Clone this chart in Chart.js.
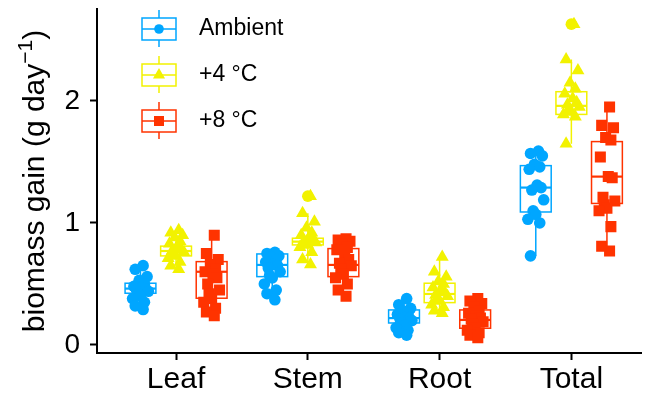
<!DOCTYPE html>
<html>
<head>
<meta charset="utf-8">
<script src="https://cdn.jsdelivr.net/npm/chart.js@4.4.1/dist/chart.umd.min.js"></script>
<style>
  html, body { margin: 0; padding: 0; background: #fff; }
</style>
</head>
<body>
<canvas id="biomass" width="649" height="396"></canvas>
<script>
const categories = ['Leaf', 'Stem', 'Root', 'Total'];
const treatments = ['Ambient', '+4 °C', '+8 °C'];
const colours = ['#00A6FF', '#F2F200', '#FF3300'];
const shapes = ['circle', 'triangle', 'rect'];

// individual plants, one list per organ (Leaf, Stem, Root, Total)
const ambientValues = [
  [0.65, 0.62, 0.56, 0.53, 0.50, 0.48, 0.47, 0.46, 0.45, 0.44, 0.42, 0.40, 0.38, 0.35, 0.32, 0.29],
  [0.76, 0.75, 0.73, 0.72, 0.70, 0.68, 0.66, 0.65, 0.63, 0.60, 0.57, 0.55, 0.50, 0.45, 0.42, 0.37],
  [0.38, 0.33, 0.30, 0.28, 0.26, 0.25, 0.23, 0.22, 0.21, 0.20, 0.18, 0.16, 0.14, 0.12, 0.10, 0.08],
  [1.59, 1.57, 1.55, 1.48, 1.46, 1.44, 1.31, 1.29, 1.27, 1.19, 1.10, 1.07, 1.03, 1.00, 0.73]
];
const warm4Values = [
  [0.94, 0.92, 0.90, 0.88, 0.85, 0.83, 0.80, 0.78, 0.77, 0.76, 0.75, 0.73, 0.71, 0.68, 0.65, 0.62],
  [1.22, 1.08, 1.01, 0.96, 0.92, 0.90, 0.88, 0.86, 0.85, 0.84, 0.83, 0.82, 0.80, 0.76, 0.70, 0.66],
  [0.72, 0.60, 0.56, 0.52, 0.50, 0.47, 0.45, 0.43, 0.41, 0.40, 0.38, 0.36, 0.33, 0.31, 0.28, 0.26],
  [2.63, 2.34, 2.25, 2.15, 2.10, 2.06, 2.02, 1.99, 1.97, 1.95, 1.93, 1.91, 1.89, 1.87, 1.65]
];
const warm8Values = [
  [0.90, 0.75, 0.70, 0.66, 0.62, 0.60, 0.58, 0.55, 0.50, 0.45, 0.42, 0.38, 0.35, 0.30, 0.27, 0.24],
  [0.87, 0.86, 0.85, 0.83, 0.80, 0.78, 0.75, 0.70, 0.67, 0.65, 0.62, 0.58, 0.55, 0.50, 0.45, 0.40],
  [0.38, 0.36, 0.34, 0.31, 0.28, 0.26, 0.24, 0.22, 0.21, 0.19, 0.17, 0.14, 0.12, 0.10, 0.08, 0.06],
  [1.95, 1.80, 1.78, 1.70, 1.68, 1.54, 1.38, 1.37, 1.21, 1.18, 1.15, 1.12, 1.10, 0.97, 0.81, 0.77]
];

// box summaries: [lower whisker, Q1, median, Q3, upper whisker]
const ambientBoxes = [
  [0.29, 0.424, 0.462, 0.506, 0.65],
  [0.37, 0.56, 0.656, 0.746, 0.76],
  [0.08, 0.18, 0.22, 0.287, 0.38],
  [0.73, 1.09, 1.29, 1.47, 1.59]
];
const warm4Boxes = [
  [0.62, 0.73, 0.77, 0.81, 0.94],
  [0.66, 0.82, 0.847, 0.875, 1.08],
  [0.26, 0.347, 0.418, 0.506, 0.72],
  [1.65, 1.89, 1.96, 2.076, 2.34]
];
const warm8Boxes = [
  [0.24, 0.383, 0.60, 0.683, 0.90],
  [0.40, 0.56, 0.656, 0.79, 0.87],
  [0.06, 0.137, 0.205, 0.287, 0.38],
  [0.77, 1.16, 1.38, 1.667, 1.95]
];

// outliers flagged by the +4 °C boxes: [organ index, value]
const warm4Outliers = [[1, 1.22], [3, 2.63]];

// fixed horizontal spread of the plant points
const jitter = [0.02, -0.04, 0.05, -0.01, 0.03, -0.05, 0.01, 0.04, -0.03, 0.06, -0.02, 0.00, -0.06, 0.03, -0.04, 0.02];

const yTicks = [0, 1, 2];

const allValues = [ambientValues, warm4Values, warm8Values];
const allBoxes = [ambientBoxes, warm4Boxes, warm8Boxes];
const dodge = [-0.27, 0, 0.27];
const boxHalf = 0.117;

function pointsFor(t) {
  const pts = [];
  allValues[t].forEach((vals, c) => {
    vals.forEach((v, i) => {
      pts.push({ x: c + 1 + dodge[t] + jitter[i % jitter.length], y: v });
    });
  });
  return pts;
}

const pointSize = { circle: 5.8, triangle: 7.5, rect: 7.8 };

const datasets = [{
  label: 'outliers',
  data: warm4Outliers.map(o => ({ x: o[0] + 1 + dodge[1], y: o[1] })),
  pointStyle: 'circle',
  pointRadius: 5.8,
  backgroundColor: colours[1],
  borderColor: colours[1],
  borderWidth: 0
}];
treatments.forEach((name, t) => {
  datasets.push({
    label: name,
    data: pointsFor(t),
    pointStyle: shapes[t],
    pointRadius: pointSize[shapes[t]],
    backgroundColor: colours[t],
    borderColor: colours[t],
    borderWidth: 0
  });
});

function drawMarker(ctx, style, x, y, r) {
  ctx.beginPath();
  if (style === 'circle') {
    ctx.arc(x, y, r, 0, Math.PI * 2);
  } else if (style === 'triangle') {
    const h = r * 1.5, s = r * Math.sqrt(3) / 2;
    ctx.moveTo(x, y - r);
    ctx.lineTo(x + s, y + h - r);
    ctx.lineTo(x - s, y + h - r);
    ctx.closePath();
  } else {
    ctx.rect(x - r, y - r, 2 * r, 2 * r);
  }
  ctx.fill();
}

// box-and-whisker shapes, placed with the chart's own scales
const boxPlugin = {
  id: 'boxes',
  beforeDatasetsDraw(chart) {
    const { ctx, scales: { x, y } } = chart;
    ctx.save();
    allBoxes.forEach((boxes, t) => {
      ctx.strokeStyle = colours[t];
      boxes.forEach((b, c) => {
        const cx = x.getPixelForValue(c + 1 + dodge[t]);
        const left = x.getPixelForValue(c + 1 + dodge[t] - boxHalf);
        const right = x.getPixelForValue(c + 1 + dodge[t] + boxHalf);
        const [lo, q1, med, q3, hi] = b.map(v => y.getPixelForValue(v));
        ctx.lineWidth = 1.5;
        ctx.beginPath();
        ctx.moveTo(cx, hi); ctx.lineTo(cx, q3);
        ctx.moveTo(cx, q1); ctx.lineTo(cx, lo);
        ctx.stroke();
        ctx.strokeRect(left, q3, right - left, q1 - q3);
        ctx.lineWidth = 2.2;
        ctx.beginPath();
        ctx.moveTo(left, med); ctx.lineTo(right, med);
        ctx.stroke();
      });
    });
    ctx.restore();
  }
};

// legend keys drawn as miniature boxplots
const legendPlugin = {
  id: 'boxLegend',
  afterDraw(chart) {
    const ctx = chart.ctx;
    ctx.save();
    treatments.forEach((name, t) => {
      const cy = 29 + t * 46;
      const cx = 159;
      ctx.strokeStyle = colours[t];
      ctx.fillStyle = colours[t];
      ctx.lineWidth = 1.5;
      ctx.beginPath();
      ctx.moveTo(cx, cy - 19); ctx.lineTo(cx, cy - 11);
      ctx.moveTo(cx, cy + 11); ctx.lineTo(cx, cy + 18);
      ctx.moveTo(cx - 17, cy); ctx.lineTo(cx + 17, cy);
      ctx.stroke();
      ctx.strokeRect(cx - 17, cy - 11, 34, 22);
      drawMarker(ctx, shapes[t], cx, cy, shapes[t] === 'circle' ? 4.8 : shapes[t] === 'triangle' ? 7 : 5);
      ctx.fillStyle = '#000';
      ctx.font = '23px "Liberation Sans", Arial, sans-serif';
      ctx.textBaseline = 'middle';
      ctx.textAlign = 'left';
      ctx.fillText(name, 199, cy);
    });
    ctx.restore();
  }
};

// y title with a real superscript
const yTitlePlugin = {
  id: 'yTitle',
  afterDraw(chart) {
    const { ctx, chartArea } = chart;
    const main = '30px "Liberation Sans", Arial, sans-serif';
    const sup = '21px "Liberation Sans", Arial, sans-serif';
    const partA = 'biomass gain (g day', partB = '\u22121', partC = ')';
    ctx.save();
    ctx.font = main;
    const wA = ctx.measureText(partA).width, wC = ctx.measureText(partC).width;
    ctx.font = sup;
    const wB = ctx.measureText(partB).width;
    const total = wA + wB + wC;
    ctx.translate(44, (chartArea.top + chartArea.bottom) / 2);
    ctx.rotate(-Math.PI / 2);
    ctx.fillStyle = '#000';
    ctx.textBaseline = 'alphabetic';
    ctx.textAlign = 'left';
    let px = -total / 2;
    ctx.font = main;
    ctx.fillText(partA, px, 0);
    px += wA;
    ctx.font = sup;
    ctx.fillText(partB, px, -12);
    px += wB;
    ctx.font = main;
    ctx.fillText(partC, px, 0);
    ctx.restore();
  }
};

const axisGrid = {
  display: true,
  drawOnChartArea: false,
  drawTicks: true,
  tickLength: 7,
  tickWidth: 2,
  color: '#000'
};

new Chart(document.getElementById('biomass').getContext('2d'), {
  type: 'scatter',
  data: { datasets: datasets },
  options: {
    responsive: false,
    animation: false,
    devicePixelRatio: 1,
    events: [],
    layout: { padding: { top: 9, right: 0, left: 0, bottom: 0 } },
    plugins: {
      legend: { display: false },
      tooltip: { enabled: false }
    },
    scales: {
      x: {
        type: 'linear',
        min: 0.4,
        max: 4.53,
        afterBuildTicks: s => { s.ticks = categories.map((c, i) => ({ value: i + 1 })); },
        afterFit: s => { s.height = 43; s.paddingLeft = 0; s.paddingRight = 0; },
        ticks: {
          callback: v => categories[v - 1],
          color: '#000',
          font: { size: 30, family: '"Liberation Sans", Arial, sans-serif' },
          padding: 2,
          maxRotation: 0
        },
        grid: axisGrid,
        border: { display: true, color: '#000', width: 2 }
      },
      y: {
        min: -0.066,
        max: 2.754,
        afterBuildTicks: s => { s.ticks = yTicks.map(v => ({ value: v })); },
        afterFit: s => { s.width = 97; s.paddingTop = 0; s.paddingBottom = 0; },
        ticks: {
          color: '#000',
          font: { size: 28, family: '"Liberation Sans", Arial, sans-serif' },
          padding: 10
        },
        grid: axisGrid,
        border: { display: true, color: '#000', width: 2 }
      }
    }
  },
  plugins: [boxPlugin, legendPlugin, yTitlePlugin]
});
</script>
</body>
</html>
